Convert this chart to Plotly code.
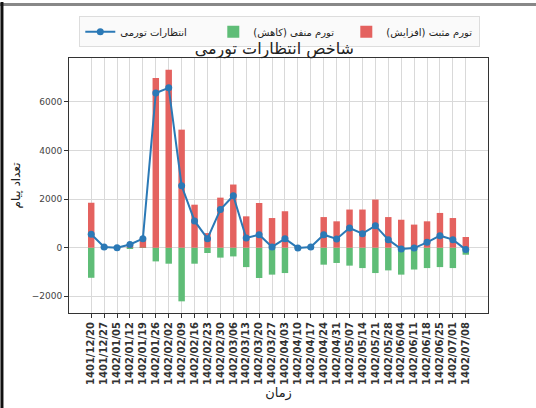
import plotly.graph_objects as go

dates = ["1401/12/20", "1401/12/27", "1402/01/05", "1402/01/12", "1402/01/19", "1402/01/26",
         "1402/02/02", "1402/02/09", "1402/02/16", "1402/02/23", "1402/02/30", "1402/03/06",
         "1402/03/13", "1402/03/20", "1402/03/27", "1402/04/03", "1402/04/10", "1402/04/17",
         "1402/04/24", "1402/04/31", "1402/05/07", "1402/05/14", "1402/05/21", "1402/05/28",
         "1402/06/04", "1402/06/11", "1402/06/18", "1402/06/25", "1402/07/01", "1402/07/08"]

positive = [1850, 80, 30, 150, 380, 6990, 7330, 4860, 1770, 600, 2060, 2600,
            1290, 1840, 1220, 1500, 40, 60, 1260, 1085, 1570, 1570, 1980, 1260,
            1150, 950, 1085, 1430, 1220, 440]
negative = [-1240, -50, -30, -20, -10, -565, -660, -2210, -660, -220, -410, -360,
            -800, -1250, -1110, -1045, -50, -30, -700, -630, -740, -840, -1045, -935,
            -1110, -900, -840, -800, -840, -290]
expectation = [550, 30, 0, 130, 370, 6370, 6580, 2550, 1100, 370, 1570, 2140,
               400, 535, 30, 370, -10, 30, 535, 360, 810, 577, 906, 330,
               -55, -15, 220, 494, 330, -80]

y_ticks = [-2000, 0, 2000, 4000, 6000]
y_tick_labels = ["\u22122000", "0", "2000", "4000", "6000"]

idx = list(range(len(dates)))
FONT = "DejaVu Sans"

fig = go.Figure()
fig.add_trace(go.Scatter(
    x=idx, y=expectation, mode="lines+markers", name="انتظارات تورمی",
    line=dict(color="#2b79b6", width=2), marker=dict(color="#2b79b6", size=7),
))
fig.add_trace(go.Bar(
    x=idx, y=negative, name="تورم منفی (کاهش)", marker=dict(color="#5fbd77", line=dict(width=0)),
    width=0.5,
))
fig.add_trace(go.Bar(
    x=idx, y=positive, name="تورم مثبت (افزایش)", marker=dict(color="#e4625f", line=dict(width=0)),
    width=0.5,
))

fig.update_layout(
    width=536, height=408,
    margin=dict(l=69, r=48, t=58, b=95, autoexpand=False),
    paper_bgcolor="white", plot_bgcolor="white",
    barmode="relative",
    font=dict(family=FONT, color="#222"),
    title=dict(text="شاخص انتظارات تورمی", x=0.49, xref="paper", xanchor="center",
               y=1.0, yref="paper", yanchor="bottom", pad=dict(b=4),
               font=dict(family=FONT, size=16, color="#222")),
    legend=dict(orientation="h", x=0.522, xref="container", xanchor="center",
                y=0.96, yref="container", yanchor="top",
                bgcolor="rgba(250,250,250,0.9)", bordercolor="#dddddd", borderwidth=1,
                font=dict(family=FONT, size=10, color="#222"),
                traceorder="normal", itemwidth=30, entrywidth=88, entrywidthmode="pixels"),
    showlegend=True,
)
fig.update_xaxes(
    range=[-1.72, 30.72], tickmode="array", tickvals=idx, ticktext=dates,
    tickangle=-90, tickfont=dict(family=FONT, size=10, color="#333", weight="bold"),
    showgrid=True, gridcolor="#d9d9d9", gridwidth=1, automargin=False,
    showline=True, linecolor="#333", linewidth=1, mirror=True,
    ticks="outside", ticklen=4, tickcolor="#333", zeroline=False,
    title=dict(text="زمان", font=dict(family=FONT, size=13, color="#222"), standoff=2),
)
fig.update_yaxes(
    range=[-2690, 7810], tickmode="array", tickvals=y_ticks, ticktext=y_tick_labels,
    tickfont=dict(family=FONT, size=9, color="#444"),
    showgrid=True, gridcolor="#d9d9d9", gridwidth=1, automargin=False,
    showline=True, linecolor="#333", linewidth=1, mirror=True,
    ticks="outside", ticklen=4, tickcolor="#333", zeroline=False,
    title=dict(text="تعداد پیام", font=dict(family=FONT, size=12, color="#222"), standoff=8),
)

# photo frame edges
fig.add_shape(type="line", xref="paper", yref="paper", x0=-0.17, x1=1.13, y0=1.21, y1=1.21,
              line=dict(color="#888", width=3))
fig.add_shape(type="line", xref="paper", yref="paper", x0=-0.16, x1=-0.16, y0=-0.38, y1=1.22,
              line=dict(color="#111", width=3))

fig.write_html("out.html", config={"displayModeBar": False},
               post_script="document.body.style.margin='0';document.body.style.overflow='hidden';")
